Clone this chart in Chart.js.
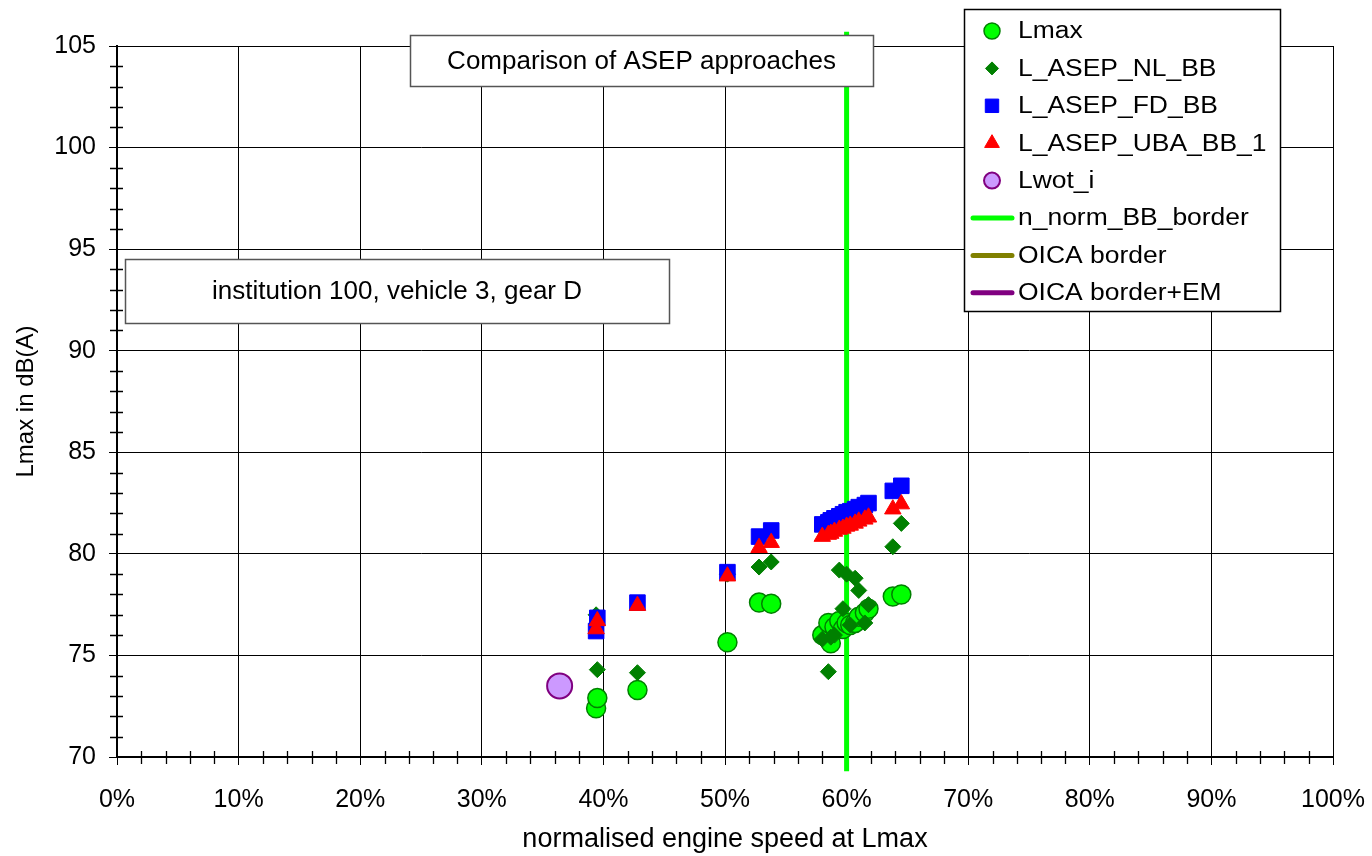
<!DOCTYPE html>
<html>
<head>
<meta charset="utf-8">
<title>Comparison of ASEP approaches</title>
<script src="https://cdn.jsdelivr.net/npm/chart.js@4/dist/chart.umd.min.js"></script>
<style>
  body { margin: 0; background: #fff; }
  canvas { display: block; }
</style>
</head>
<body>
<canvas id="asep-chart" width="1372" height="856"></canvas>
<script>
// runs: normalised engine speed (%) and the levels of each approach
const runX = [39.4, 39.5, 42.8, 50.2, 52.8, 53.8, 58.0, 58.5, 58.7, 59.0, 59.4, 59.7, 60.0, 60.3, 60.7, 61.0, 61.5, 61.8, 63.8, 64.5];
const lmaxY = [72.4, 72.9, 73.3, 75.65, 77.6, 77.55, 76.0, 76.6, 75.6, 76.4, 76.7, 76.3, 76.6, 76.5, 76.6, 76.9, 77.1, 77.3, 77.9, 78.0];
const nlY = [77.0, 74.3, 74.15, 79.0, 79.35, 79.6, 75.8, 74.2, 75.9, 76.0, 79.2, 77.3, 79.0, 76.5, 78.8, 78.2, 76.6, 77.5, 80.35, 81.5];
const fdY = [76.2, 76.85, 77.6, 79.1, 80.85, 81.15, 81.45, 81.55, 81.65, 81.75, 81.85, 81.95, 82.05, 82.1, 82.2, 82.3, 82.4, 82.5, 83.1, 83.35];
const ubaY = [76.3, 76.7, 77.45, 78.9, 80.3, 80.55, 80.85, 80.95, 81.0, 81.1, 81.2, 81.25, 81.35, 81.4, 81.5, 81.6, 81.7, 81.8, 82.2, 82.45];

const wotX = [36.4];
const wotY = [73.5];

// n_norm border line
const borderX = [60, 60];
const borderY = [69.3, 105.7];

const xMin = 0, xMax = 100, yMin = 70, yMax = 105;

const FONT = '"Liberation Sans", Arial, sans-serif';

function pts(xs, ys) {
    return xs.map((x, i) => ({ x: x, y: ys[i] }));
}

// minor ticks crossing the axes
const minorTicks = {
    id: 'minorTicks',
    afterDraw(chart) {
        const { ctx, chartArea, scales } = chart;
        ctx.save();
        ctx.strokeStyle = '#000';
        ctx.lineWidth = 1.3;
        ctx.beginPath();
        for (let v = xMin + 2; v < xMax; v += 2) {
            if (v % 10 === 0) continue;
            const px = Math.round(scales.x.getPixelForValue(v)) + 0.5;
            ctx.moveTo(px, chartArea.bottom - 6);
            ctx.lineTo(px, chartArea.bottom + 7);
        }
        for (let v = yMin + 1; v < yMax; v += 1) {
            if (v % 5 === 0) continue;
            const py = Math.round(scales.y.getPixelForValue(v)) + 0.5;
            ctx.moveTo(chartArea.left - 7, py);
            ctx.lineTo(chartArea.left + 6, py);
        }
        ctx.stroke();
        ctx.restore();
    }
};

// text boxes and the legend frame
const textBoxes = [
    { text: 'Comparison of ASEP approaches', left: 410, top: 35, right: 873, bottom: 86 },
    { text: 'institution 100, vehicle 3, gear D', left: 125, top: 259, right: 669, bottom: 323 }
];

const boxes = {
    id: 'boxes',
    afterDraw(chart) {
        const ctx = chart.ctx;
        ctx.save();
        textBoxes.forEach(b => {
            ctx.fillStyle = '#fff';
            ctx.fillRect(b.left, b.top, b.right - b.left, b.bottom - b.top);
            ctx.strokeStyle = '#555';
            ctx.lineWidth = 1.5;
            ctx.strokeRect(b.left + 0.5, b.top + 0.5, b.right - b.left, b.bottom - b.top);
            ctx.fillStyle = '#000';
            ctx.font = '26px ' + FONT;
            ctx.textAlign = 'center';
            ctx.textBaseline = 'middle';
            ctx.fillText(b.text, (b.left + b.right) / 2, (b.top + b.bottom) / 2 + 1);
        });

        // legend
        const lx = 964, ly = 9, lw = 316, lh = 302, rowH = 37.4;
        ctx.fillStyle = '#fff';
        ctx.fillRect(lx, ly, lw, lh);
        ctx.strokeStyle = '#000';
        ctx.lineWidth = 1.5;
        ctx.strokeRect(lx + 0.5, ly + 0.5, lw, lh);

        chart.data.datasets.slice().sort((a, b) => a.legendIndex - b.legendIndex).forEach((ds, i) => {
            const cy = ly + 22 + i * rowH;
            if (ds.showLine) {
                ctx.strokeStyle = ds.borderColor;
                ctx.lineWidth = 5;
                ctx.lineCap = 'round';
                ctx.beginPath();
                ctx.moveTo(973, cy);
                ctx.lineTo(1012, cy);
                ctx.stroke();
            } else {
                ctx.fillStyle = ds.backgroundColor;
                ctx.strokeStyle = ds.borderColor;
                ctx.lineWidth = ds.borderWidth;
                Chart.helpers.drawPoint(ctx, {
                    pointStyle: ds.pointStyle,
                    radius: ds.legendRadius,
                    rotation: 0,
                    borderWidth: ds.borderWidth
                }, 992, cy);
            }
            ctx.save();
            ctx.translate(1018, cy + 1);
            ctx.scale(1.15, 1);
            ctx.fillStyle = '#000';
            ctx.font = '23px ' + FONT;
            ctx.textAlign = 'left';
            ctx.textBaseline = 'middle';
            ctx.fillText(ds.label, 0, 0);
            ctx.restore();
        });
        ctx.restore();
    }
};

new Chart(document.getElementById('asep-chart').getContext('2d'), {
    type: 'scatter',
    data: {
        datasets: [
            {
                label: 'Lmax', legendIndex: 0, order: 6,
                data: pts(runX, lmaxY),
                pointStyle: 'circle', pointRadius: 9.5, legendRadius: 8,
                backgroundColor: '#00ff00', borderColor: '#008000', borderWidth: 1.5
            },
            {
                label: 'L_ASEP_NL_BB', legendIndex: 1, order: 5,
                data: pts(runX, nlY),
                pointStyle: 'rectRot', pointRadius: 8, legendRadius: 6.5,
                backgroundColor: '#008000', borderColor: '#008000', borderWidth: 1
            },
            {
                label: 'L_ASEP_FD_BB', legendIndex: 2, order: 4,
                data: pts(runX, fdY),
                pointStyle: 'rect', pointRadius: 11, legendRadius: 9.5,
                backgroundColor: '#0000ff', borderColor: '#0000ff', borderWidth: 1
            },
            {
                label: 'L_ASEP_UBA_BB_1', legendIndex: 3, order: 3,
                data: pts(runX, ubaY),
                pointStyle: 'triangle', pointRadius: 9.5, legendRadius: 8.5,
                backgroundColor: '#ff0000', borderColor: '#ff0000', borderWidth: 1
            },
            {
                label: 'Lwot_i', legendIndex: 4, order: 2,
                data: pts(wotX, wotY),
                pointStyle: 'circle', pointRadius: 12.5, legendRadius: 8,
                backgroundColor: '#cc99ff', borderColor: '#800080', borderWidth: 2
            },
            {
                label: 'n_norm_BB_border', legendIndex: 5, order: 10,
                data: pts(borderX, borderY),
                showLine: true, pointRadius: 0, clip: false,
                borderColor: '#00ff00', borderWidth: 5
            },
            {
                label: 'OICA border', legendIndex: 6, order: 9,
                data: [],
                showLine: true, pointRadius: 0,
                borderColor: '#808000', borderWidth: 5
            },
            {
                label: 'OICA border+EM', legendIndex: 7, order: 8,
                data: [],
                showLine: true, pointRadius: 0,
                borderColor: '#800080', borderWidth: 5
            }
        ]
    },
    options: {
        responsive: false,
        animation: false,
        layout: { padding: { top: 46, right: 39, left: 0, bottom: 0 } },
        plugins: {
            legend: { display: false },
            tooltip: { enabled: false }
        },
        scales: {
            x: {
                type: 'linear',
                min: xMin, max: xMax,
                afterFit: s => { s.height = 99; s.paddingLeft = 0; s.paddingRight = 0; },
                ticks: {
                    stepSize: 2,
                    autoSkip: false,
                    maxRotation: 0,
                    padding: 20,
                    color: '#000',
                    font: { family: FONT, size: 25 },
                    callback: v => (v % 10 === 0 ? v + '%' : '')
                },
                grid: {
                    color: c => (c.tick && c.tick.value % 10 === 0 ? '#000' : 'rgba(0,0,0,0)'),
                    tickColor: c => (c.tick && c.tick.value % 10 === 0 ? '#000' : 'rgba(0,0,0,0)'),
                    tickLength: 8,
                    lineWidth: 1
                },
                border: { display: true, color: '#000', width: 2 },
                title: {
                    display: true,
                    text: 'normalised engine speed at Lmax',
                    color: '#000',
                    font: { family: FONT, size: 27 },
                    padding: { top: 0, bottom: 0 }
                }
            },
            y: {
                type: 'linear',
                min: yMin, max: yMax,
                afterFit: s => { s.width = 117; s.paddingTop = 0; s.paddingBottom = 0; },
                ticks: {
                    stepSize: 1,
                    autoSkip: false,
                    padding: 13,
                    color: '#000',
                    font: { family: FONT, size: 25 },
                    callback: v => (v % 5 === 0 ? String(v) : '')
                },
                grid: {
                    color: c => (c.tick && c.tick.value % 5 === 0 ? '#000' : 'rgba(0,0,0,0)'),
                    tickColor: c => (c.tick && c.tick.value % 5 === 0 ? '#000' : 'rgba(0,0,0,0)'),
                    tickLength: 8,
                    lineWidth: 1
                },
                border: { display: true, color: '#000', width: 2 },
                title: {
                    display: true,
                    text: 'Lmax in dB(A)',
                    color: '#000',
                    font: { family: FONT, size: 24 },
                    padding: { top: 12, bottom: 0 }
                }
            }
        }
    },
    plugins: [minorTicks, boxes]
});
</script>
</body>
</html>
